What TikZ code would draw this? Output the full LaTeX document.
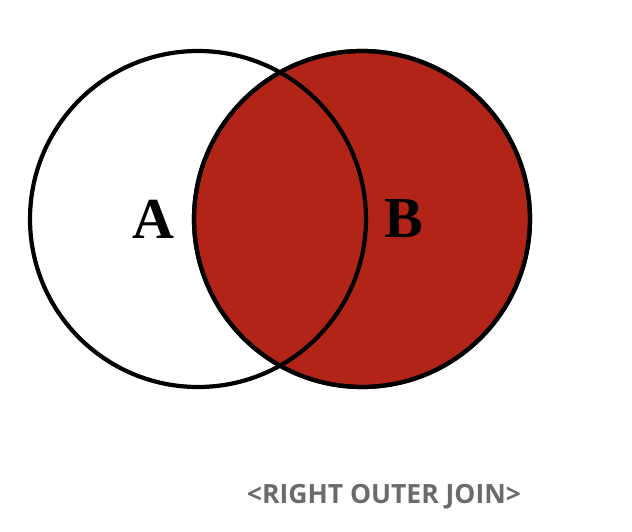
\documentclass[tikz,border=0pt]{standalone}
\usepackage{fontspec}
\usepackage{xcolor}
\usepackage{tikz}
\usetikzlibrary{positioning}
\newfontfamily\letterfont{Liberation Serif}
\newfontfamily\notefont{Open Sans}
\definecolor{joinred}{HTML}{B22418}
\definecolor{notegray}{HTML}{6B6B6B}

\begin{document}
\begin{tikzpicture}[
  x=1pt, y=-1pt,
  venn/.style={draw, circle, line width=4.2pt, inner sep=0pt, minimum size=336pt},
  lbl/.style={font=\letterfont\bfseries\fontsize{58}{58}\selectfont, inner sep=0pt},
  note/.style={font=\notefont\bfseries\fontsize{26.5}{26.5}\selectfont, text=notegray, inner sep=0pt}
]
\useasboundingbox (0,0) rectangle (632,532);

% the two sets, B filled
\node[venn, fill=joinred] (setB) at (362,219) {};
\node[venn] (setA) at (198,219) {};
\draw[line width=4.2pt] (setB.center) circle (168pt);

\node[lbl] (labA) at (153,219) {A};
\node[lbl] (labB) at (404,219) {B};

\node[note, anchor=base] (caption) at (384,503) {<RIGHT OUTER JOIN>};
\end{tikzpicture}
\end{document}
